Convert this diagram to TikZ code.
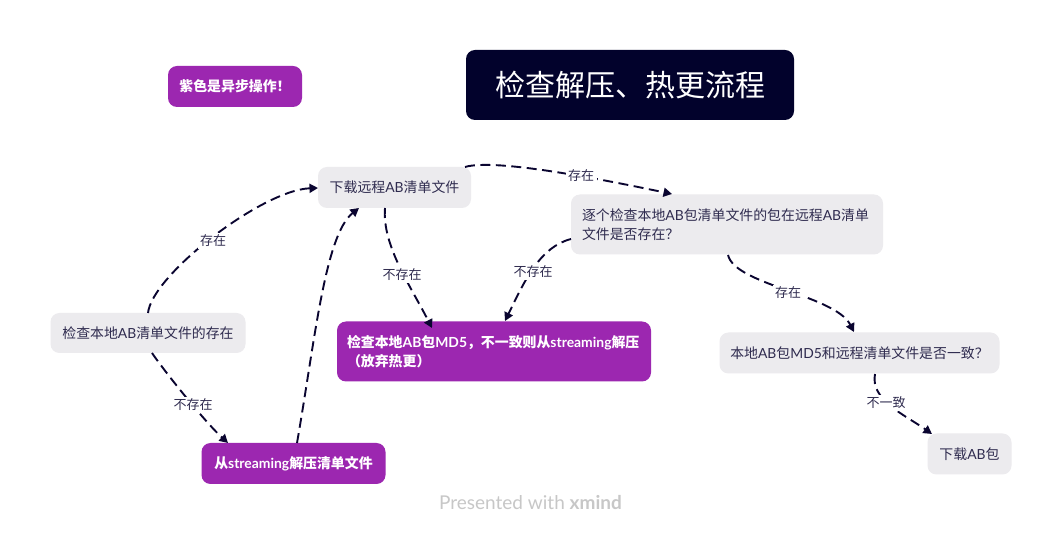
\documentclass[tikz,border=0pt]{standalone}
\usepackage{fontspec}
\setmainfont{Noto Sans CJK SC}
\newfontfamily\lat{Lato}
\usetikzlibrary{arrows.meta}
\definecolor{ink}{HTML}{0A0530}
\definecolor{navy}{HTML}{02022C}
\definecolor{grayb}{HTML}{ECEBEE}
\definecolor{purp}{HTML}{9C27B0}
\tikzset{x=1pt,y=-1pt,
 box/.style={rounded corners=9pt,inner sep=0pt,align=left,font=\fontsize{13.9}{19}\selectfont},
 plain/.style={box,fill=grayb,text=ink!85},
 async/.style={box,fill=purp,text=white,font=\fontsize{13.9}{19}\selectfont\bfseries},
 conn/.style={draw=ink,line width=1.9pt,dash pattern=on 10pt off 5.5pt,-{Triangle[length=8.5pt,width=9pt]}},
 lab/.style={font=\fontsize{13}{15}\selectfont,text=ink!85,fill=white,inner sep=2.5pt}}
\begin{document}
\begin{tikzpicture}
\useasboundingbox (0,0) rectangle (1061,534);
\fill[white] (0,0) rectangle (1061,534);
\node[box,fill=navy,text=white,minimum width=328pt,minimum height=70pt,align=center,font=\fontsize{30}{36}\selectfont] (title) at (630,85) {检查解压、热更流程};
\node[async,minimum width=134pt,minimum height=41pt,align=center] (note) at (235,86.5) {紫色是异步操作！};
\node[plain,minimum width=195pt,minimum height=40pt,align=center] (check) at (148,333) {检查本地{\lat AB}清单文件的存在};
\node[plain,minimum width=153pt,minimum height=41pt,align=center] (down) at (394.5,187.5) {下载远程{\lat AB}清单文件};
\node[async,minimum width=184pt,minimum height=41pt,align=center] (unzip) at (293.5,463.5) {从{\lat streaming}解压清单文件};
\node[plain,minimum width=312pt,minimum height=60pt,text width=290pt] (each) at (727,224.5) {逐个检查本地{\lat AB}包清单文件的包在远程{\lat AB}清单\\文件是否存在？};
\node[async,minimum width=314pt,minimum height=60pt,text width=294pt] (md5) at (494,351.5) {检查本地{\lat AB}包{\lat MD5}，不一致则从{\lat streaming}解压\\（放弃热更）};
\node[plain,minimum width=280pt,minimum height=41pt,align=center] (cmp) at (859.5,353) {本地{\lat AB}包{\lat MD5}和远程清单文件是否一致？};
\node[plain,minimum width=84pt,minimum height=41pt,align=center] (dl) at (969.5,454) {下载{\lat AB}包};
\coordinate (a1) at (148,313); \coordinate (a2) at (318,188);
\draw[conn] (a1) .. controls (152,275) and (262,190) .. (a2);
\coordinate (b1) at (152,353); \coordinate (b2) at (228,443);
\draw[conn] (b1) .. controls (165,372) and (205,422) .. (b2);
\coordinate (c1) at (297,443); \coordinate (c2) at (359,208);
\draw[conn] (c1) .. controls (315,340) and (325,235) .. (c2);
\coordinate (d1) at (385,208); \coordinate (d2) at (432,328);
\draw[conn] (d1) .. controls (382,245) and (410,285) .. (d2);
\coordinate (e1) at (465,167); \coordinate (e2) at (672,194);
\draw[conn] (e1) .. controls (495,158) and (605,180) .. (e2);
\coordinate (f1) at (571,239); \coordinate (f2) at (505,321);
\draw[conn] (f1) .. controls (540,247) and (525,280) .. (f2);
\coordinate (g1) at (728,255); \coordinate (g2) at (854,332);
\draw[conn] (g1) .. controls (735,285) and (835,295) .. (g2);
\coordinate (h1) at (875,374); \coordinate (h2) at (932,434);
\draw[conn] (h1) .. controls (870,400) and (905,415) .. (h2);
\node[lab] (l1) at (213,241) {存在};
\node[lab] (l2) at (193,405) {不存在};
\node[lab] (l3) at (402,275) {不存在};
\node[lab] (l4) at (581,176) {存在};
\node[lab] (l5) at (533,272) {不存在};
\node[lab] (l6) at (788,293) {存在};
\node[lab] (l7) at (886,403) {不一致};
\node[font=\fontsize{19}{22}\selectfont,text=black!22] (brand) at (530.5,503) {\lat Presented with {\bfseries xmind}};
\end{tikzpicture}
\end{document}
